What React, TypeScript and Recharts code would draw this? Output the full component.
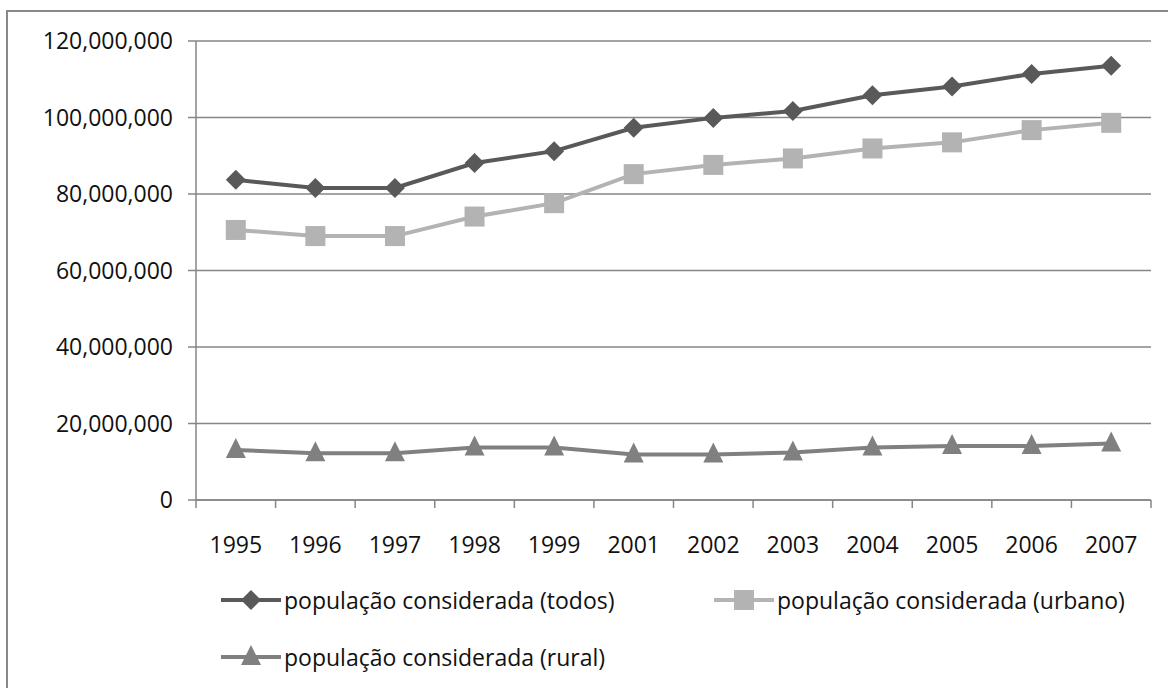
import React from "react";
import {
  LineChart,
  Line,
  XAxis,
  YAxis,
  CartesianGrid,
} from "recharts";

// years on the category axis
const years = ["1995", "1996", "1997", "1998", "1999", "2001", "2002", "2003", "2004", "2005", "2006", "2007"];

// population, in millions
const todos = [83.7, 81.6, 81.6, 88.1, 91.2, 97.3, 99.9, 101.7, 105.8, 108.1, 111.4, 113.5];
const urbano = [70.6, 69.0, 69.0, 74.1, 77.6, 85.2, 87.6, 89.3, 91.9, 93.5, 96.7, 98.6];
const rural = [13.1, 12.2, 12.2, 13.7, 13.7, 11.9, 11.9, 12.4, 13.7, 14.1, 14.1, 14.8];

const yTicks = [0, 20000000, 40000000, 60000000, 80000000, 100000000, 120000000];

const data = years.map((year, i) => ({
  i,
  year,
  todos: todos[i] * 1e6,
  urbano: urbano[i] * 1e6,
  rural: rural[i] * 1e6,
}));

const FONT = "'Open Sans', sans-serif";
const AXIS = "#868686";

type Shape = "diamond" | "square" | "triangle";

const series: { key: string; name: string; color: string; shape: Shape }[] = [
  { key: "todos", name: "população considerada (todos)", color: "#595959", shape: "diamond" },
  { key: "urbano", name: "população considerada (urbano)", color: "#b3b3b3", shape: "square" },
  { key: "rural", name: "população considerada (rural)", color: "#808080", shape: "triangle" },
];

const Marker = ({ cx, cy, shape, color }: { cx: number; cy: number; shape: Shape; color: string }) => {
  if (cx == null || cy == null) return null;
  if (shape === "diamond") {
    return <path d={`M${cx},${cy - 10}L${cx + 10},${cy}L${cx},${cy + 10}L${cx - 10},${cy}Z`} fill={color} />;
  }
  if (shape === "square") {
    return <rect x={cx - 10} y={cy - 10} width={20} height={20} fill={color} />;
  }
  return <path d={`M${cx},${cy - 12}L${cx + 10},${cy + 8}L${cx - 10},${cy + 8}Z`} fill={color} />;
};

const XTick = (props: any) => {
  const { x, y, payload } = props;
  const v = payload.value;
  if (Number.isInteger(v)) {
    return (
      <text x={x} y={y + 45} textAnchor="middle" fill="#111" fontSize={23} fontFamily={FONT}>
        {years[v]}
      </text>
    );
  }
  return <line x1={x} x2={x} y1={y - 8} y2={y} stroke={AXIS} strokeWidth={1.5} />;
};

const xTicks: number[] = [];
for (let k = -0.5; k <= years.length - 0.5; k += 0.5) xTicks.push(k);

const LegendItem = ({ s }: { s: (typeof series)[number] }) => (
  <div style={{ display: "flex", alignItems: "center" }}>
    <svg width={64} height={24}>
      <line x1={2} x2={62} y1={12} y2={12} stroke={s.color} strokeWidth={4} />
      <Marker cx={32} cy={12} shape={s.shape} color={s.color} />
    </svg>
    <span style={{ fontFamily: FONT, fontSize: 23, color: "#111", marginLeft: 1 }}>{s.name}</span>
  </div>
);

export default function App() {
  return (
    <div style={{ position: "absolute", left: 0, top: 0, width: 1168, height: 688, background: "#fff", overflow: "hidden" }}>
      <div
        style={{
          position: "absolute",
          left: 6,
          top: 10,
          width: 1200,
          height: 720,
          border: "2px solid #888",
          boxSizing: "border-box",
        }}
      />
      <div style={{ position: "absolute", left: 0, top: 0 }}>
        <LineChart
          width={1168}
          height={688}
          data={data}
          margin={{ top: 41, right: 17, left: 0, bottom: 128 }}
        >
          <CartesianGrid vertical={false} stroke={AXIS} strokeWidth={1.5} />
          <XAxis
            dataKey="i"
            type="number"
            domain={[-0.5, years.length - 0.5]}
            ticks={xTicks}
            interval={0}
            height={60}
            tickSize={8}
            tickMargin={0}
            tickLine={false}
            axisLine={{ stroke: AXIS, strokeWidth: 1.5 }}
            tick={<XTick />}
          />
          <YAxis
            width={196}
            domain={[0, 120000000]}
            ticks={yTicks}
            interval={0}
            tickSize={8}
            tickMargin={15}
            tickFormatter={(v: number) => v.toLocaleString("en-US")}
            tick={{ fill: "#111", fontSize: 23, fontFamily: FONT }}
            axisLine={{ stroke: AXIS, strokeWidth: 1.5 }}
            tickLine={{ stroke: AXIS, strokeWidth: 1.5 }}
          />
          {series.map((s) => (
            <Line
              key={s.key}
              dataKey={s.key}
              name={s.name}
              stroke={s.color}
              strokeWidth={4}
              isAnimationActive={false}
              dot={(p: any) => <Marker key={`${s.key}-${p.index}`} cx={p.cx} cy={p.cy} shape={s.shape} color={s.color} />}
              activeDot={false}
            />
          ))}
        </LineChart>
      </div>
      <div style={{ position: "absolute", left: 219, top: 584 }}>
        <LegendItem s={series[0]} />
      </div>
      <div style={{ position: "absolute", left: 712, top: 584 }}>
        <LegendItem s={series[1]} />
      </div>
      <div style={{ position: "absolute", left: 219, top: 641 }}>
        <LegendItem s={series[2]} />
      </div>
    </div>
  );
}
